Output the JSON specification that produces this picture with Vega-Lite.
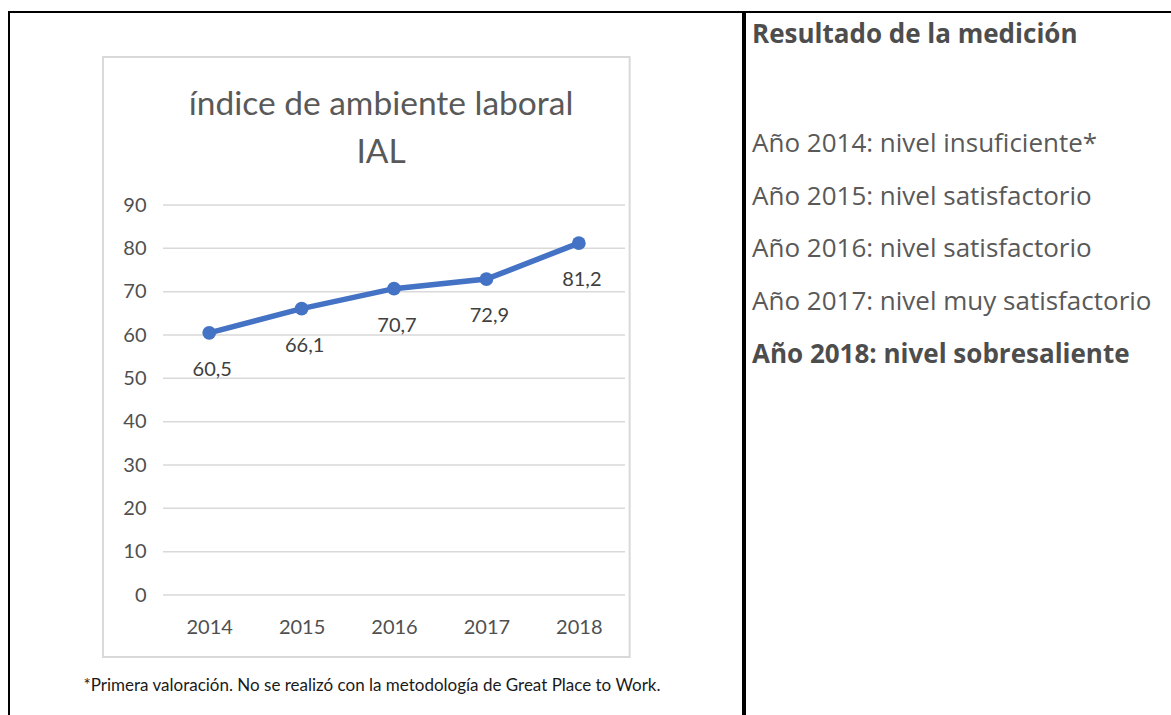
{
  "$schema": "https://vega.github.io/schema/vega-lite/v6.json",
  "padding": {"left": 8, "top": 11, "right": 0, "bottom": 0},
  "background": "white",
  "spacing": 0,
  "config": {
    "locale": {"number": {"decimal": ",", "thousands": ".", "grouping": [3], "currency": ["", " €"]}},
    "view": {"stroke": "#000000", "strokeWidth": 2},
    "font": "Lato"
  },
  "datasets": {
    "ial": [
      {"anio": 2014, "valor": 60.5},
      {"anio": 2015, "valor": 66.1},
      {"anio": 2016, "valor": 70.7},
      {"anio": 2017, "valor": 72.9},
      {"anio": 2018, "valor": 81.2}
    ],
    "marcas": [
      {"v": 0}, {"v": 10}, {"v": 20}, {"v": 30}, {"v": 40},
      {"v": 50}, {"v": 60}, {"v": 70}, {"v": 80}, {"v": 90}
    ],
    "resultados": [
      {"anio": 2014, "texto": "Año 2014: nivel insuficiente*"},
      {"anio": 2015, "texto": "Año 2015: nivel satisfactorio"},
      {"anio": 2016, "texto": "Año 2016: nivel satisfactorio"},
      {"anio": 2017, "texto": "Año 2017: nivel muy satisfactorio"},
      {"anio": 2018, "texto": "Año 2018: nivel sobresaliente"}
    ]
  },
  "hconcat": [
    {
      "width": 734,
      "height": 704,
      "title": {
        "text": ["índice de ambiente laboral", "IAL"],
        "font": "Lato",
        "fontSize": 33.5,
        "fontWeight": "normal",
        "color": "#595959",
        "lineHeight": 48,
        "anchor": "middle",
        "dx": 5,
        "offset": -158
      },
      "layer": [
        {
          "data": {"values": [{}]},
          "mark": {"type": "rect", "filled": false, "stroke": "#d9d9d9", "strokeWidth": 2},
          "encoding": {
            "x": {"datum": 2012.85, "type": "quantitative", "scale": {"domain": [2011.833, 2019.777], "nice": false, "zero": false},
              "axis": {"values": [2014, 2015, 2016, 2017, 2018], "format": "d", "labelFont": "Lato", "labelFontSize": 20, "labelColor": "#505050", "labelPadding": 4, "labelFlush": false, "labelOverlap": false, "domain": false, "ticks": false, "grid": false, "offset": -103,
                "title": "*Primera valoración. No se realizó con la metodología de Great Place to Work.", "titleFont": "Lato", "titleFontSize": 17, "titleFontWeight": "normal", "titleColor": "#1a1a1a", "titleAlign": "left", "titleBaseline": "middle", "titleX": 74, "titleY": 72}},
            "x2": {"datum": 2018.55},
            "y": {"datum": 124.15, "type": "quantitative", "scale": {"domain": [-27.92, 134.54], "nice": false, "zero": false},
              "axis": {"values": [0, 10, 20, 30, 40, 50, 60, 70, 80, 90], "labelFont": "Lato", "labelFontSize": 20, "labelColor": "#505050", "labelPadding": 4, "labelFlush": false, "labelOverlap": false, "domain": false, "ticks": false, "grid": false, "offset": -141, "title": null}},
            "y2": {"datum": -14.31}
          }
        },
        {
          "data": {"name": "marcas"},
          "mark": {"type": "rule", "color": "#d9d9d9", "strokeWidth": 1.5},
          "encoding": {
            "x": {"datum": 2013.5, "type": "quantitative", "scale": {"domain": [2011.833, 2019.777], "nice": false, "zero": false},
              "axis": {"values": [2014, 2015, 2016, 2017, 2018], "format": "d", "labelFont": "Lato", "labelFontSize": 20, "labelColor": "#505050", "labelPadding": 4, "labelFlush": false, "labelOverlap": false, "domain": false, "ticks": false, "grid": false, "offset": -103,
                "title": "*Primera valoración. No se realizó con la metodología de Great Place to Work.", "titleFont": "Lato", "titleFontSize": 17, "titleFontWeight": "normal", "titleColor": "#1a1a1a", "titleAlign": "left", "titleBaseline": "middle", "titleX": 74, "titleY": 72}},
            "x2": {"datum": 2018.5},
            "y": {"field": "v", "type": "quantitative", "scale": {"domain": [-27.92, 134.54], "nice": false, "zero": false},
              "axis": {"values": [0, 10, 20, 30, 40, 50, 60, 70, 80, 90], "labelFont": "Lato", "labelFontSize": 20, "labelColor": "#505050", "labelPadding": 4, "labelFlush": false, "labelOverlap": false, "domain": false, "ticks": false, "grid": false, "offset": -141, "title": null}}
          }
        },
        {
          "data": {"name": "ial"},
          "mark": {"type": "line", "color": "#4472C4", "strokeWidth": 5.5},
          "encoding": {
            "x": {"field": "anio", "type": "quantitative", "scale": {"domain": [2011.833, 2019.777], "nice": false, "zero": false},
              "axis": {"values": [2014, 2015, 2016, 2017, 2018], "format": "d", "labelFont": "Lato", "labelFontSize": 20, "labelColor": "#505050", "labelPadding": 4, "labelFlush": false, "labelOverlap": false, "domain": false, "ticks": false, "grid": false, "offset": -103,
                "title": "*Primera valoración. No se realizó con la metodología de Great Place to Work.", "titleFont": "Lato", "titleFontSize": 17, "titleFontWeight": "normal", "titleColor": "#1a1a1a", "titleAlign": "left", "titleBaseline": "middle", "titleX": 74, "titleY": 72}},
            "y": {"field": "valor", "type": "quantitative", "scale": {"domain": [-27.92, 134.54], "nice": false, "zero": false},
              "axis": {"values": [0, 10, 20, 30, 40, 50, 60, 70, 80, 90], "labelFont": "Lato", "labelFontSize": 20, "labelColor": "#505050", "labelPadding": 4, "labelFlush": false, "labelOverlap": false, "domain": false, "ticks": false, "grid": false, "offset": -141, "title": null}}
          }
        },
        {
          "data": {"name": "ial"},
          "mark": {"type": "point", "filled": true, "size": 190, "color": "#4472C4", "opacity": 1},
          "encoding": {
            "x": {"field": "anio", "type": "quantitative", "scale": {"domain": [2011.833, 2019.777], "nice": false, "zero": false},
              "axis": {"values": [2014, 2015, 2016, 2017, 2018], "format": "d", "labelFont": "Lato", "labelFontSize": 20, "labelColor": "#505050", "labelPadding": 4, "labelFlush": false, "labelOverlap": false, "domain": false, "ticks": false, "grid": false, "offset": -103,
                "title": "*Primera valoración. No se realizó con la metodología de Great Place to Work.", "titleFont": "Lato", "titleFontSize": 17, "titleFontWeight": "normal", "titleColor": "#1a1a1a", "titleAlign": "left", "titleBaseline": "middle", "titleX": 74, "titleY": 72}},
            "y": {"field": "valor", "type": "quantitative", "scale": {"domain": [-27.92, 134.54], "nice": false, "zero": false},
              "axis": {"values": [0, 10, 20, 30, 40, 50, 60, 70, 80, 90], "labelFont": "Lato", "labelFontSize": 20, "labelColor": "#505050", "labelPadding": 4, "labelFlush": false, "labelOverlap": false, "domain": false, "ticks": false, "grid": false, "offset": -141, "title": null}}
          }
        },
        {
          "data": {"name": "ial"},
          "mark": {"type": "text", "dy": 37, "dx": 3, "fontSize": 20, "font": "Lato", "color": "#404040", "baseline": "middle"},
          "encoding": {
            "x": {"field": "anio", "type": "quantitative", "scale": {"domain": [2011.833, 2019.777], "nice": false, "zero": false},
              "axis": {"values": [2014, 2015, 2016, 2017, 2018], "format": "d", "labelFont": "Lato", "labelFontSize": 20, "labelColor": "#505050", "labelPadding": 4, "labelFlush": false, "labelOverlap": false, "domain": false, "ticks": false, "grid": false, "offset": -103,
                "title": "*Primera valoración. No se realizó con la metodología de Great Place to Work.", "titleFont": "Lato", "titleFontSize": 17, "titleFontWeight": "normal", "titleColor": "#1a1a1a", "titleAlign": "left", "titleBaseline": "middle", "titleX": 74, "titleY": 72}},
            "y": {"field": "valor", "type": "quantitative", "scale": {"domain": [-27.92, 134.54], "nice": false, "zero": false},
              "axis": {"values": [0, 10, 20, 30, 40, 50, 60, 70, 80, 90], "labelFont": "Lato", "labelFontSize": 20, "labelColor": "#505050", "labelPadding": 4, "labelFlush": false, "labelOverlap": false, "domain": false, "ticks": false, "grid": false, "offset": -141, "title": null}},
            "text": {"field": "valor", "type": "quantitative", "format": ".1f"}
          }
        }
      ]
    },
    {
      "width": 429,
      "height": 704,
      "title": {
        "text": "Resultado de la medición",
        "font": "Open Sans",
        "fontSize": 26,
        "fontWeight": "bold",
        "color": "#4d4d4d",
        "anchor": "start",
        "dx": 7,
        "offset": -36
      },
      "data": {"name": "resultados"},
      "layer": [
        {
          "transform": [{"filter": "datum.anio !== 2018"}],
          "mark": {"type": "text", "align": "left", "baseline": "middle", "fontSize": 26, "font": "Open Sans", "color": "#595959", "dx": 7},
          "encoding": {
            "x": {"datum": 0, "type": "quantitative", "scale": {"domain": [0, 1], "nice": false, "zero": false}, "axis": null},
            "y": {"field": "anio", "type": "quantitative", "scale": {"domain": [2011.4976, 2024.844], "reverse": true, "nice": false, "zero": false}, "axis": null},
            "text": {"field": "texto"}
          }
        },
        {
          "transform": [{"filter": "datum.anio === 2018"}],
          "mark": {"type": "text", "align": "left", "baseline": "middle", "fontSize": 26, "font": "Open Sans", "fontWeight": "bold", "color": "#4d4d4d", "dx": 7},
          "encoding": {
            "x": {"datum": 0, "type": "quantitative", "scale": {"domain": [0, 1], "nice": false, "zero": false}, "axis": null},
            "y": {"field": "anio", "type": "quantitative", "scale": {"domain": [2011.4976, 2024.844], "reverse": true, "nice": false, "zero": false}, "axis": null},
            "text": {"field": "texto"}
          }
        }
      ]
    }
  ]
}
